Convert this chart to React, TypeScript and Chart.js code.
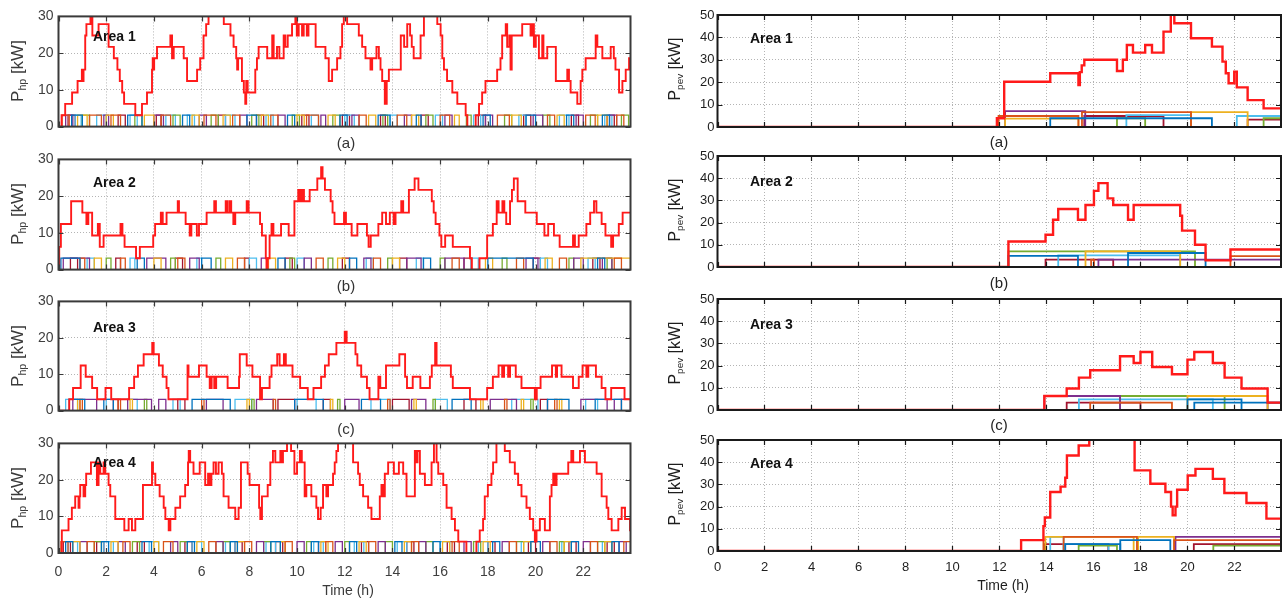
import { useEffect, useRef } from "react";
import { Chart, registerables } from "chart.js";

Chart.register(...registerables);

const FONT = '"Liberation Sans", Arial, Helvetica, sans-serif';
const DAY_END = 23.98;
const HOUR_TICKS = [0, 2, 4, 6, 8, 10, 12, 14, 16, 18, 20, 22];
const HP_TICKS = [0, 10, 20, 30];
const PEV_TICKS = [0, 10, 20, 30, 40, 50];
const HP_UNIT_KW = 3.1;
// default line colour order: blue, orange, yellow, purple, green, light blue, dark red
const SERIES_COLORS = ["#0072BD", "#D95319", "#EDB120", "#7E2F8E", "#77AC30", "#4DBEEE", "#A2142F"];

type Step = [number, number];
type Interval = [number, number];
type Pulse = [number, number, number];

// ---------- heat pumps: aggregate power [h, kW] ----------
const area1HpTotal: Step[] = [
  [0, 0], [0.13, 3.1], [0.28, 6.2], [0.57, 9.3], [0.8, 12.4], [0.98, 15.5], [1.02, 12.4], [1.05, 15.5],
  [1.12, 24.8], [1.17, 27.9], [1.34, 34], [1.42, 24.8], [1.68, 27.9], [2.1, 21.7], [2.32, 18.6],
  [2.47, 15.5], [2.57, 12.4], [2.67, 9.3], [2.75, 6.2], [3.22, 3.1], [3.5, 6.2], [3.71, 9.3],
  [3.92, 15.5], [3.95, 18.6], [3.98, 15.5], [4.01, 18.6], [4.13, 21.7], [4.69, 24.8], [4.76, 18.6],
  [4.83, 21.7], [5.25, 18.6], [5.39, 12.4], [5.81, 15.5], [5.94, 18.6], [6.08, 24.8], [6.19, 27.9],
  [6.29, 34], [6.93, 27.9], [7.21, 24.8], [7.34, 21.7], [7.45, 18.6], [7.49, 15.5], [7.53, 18.6],
  [7.69, 12.4], [7.77, 9.3], [7.83, 6.2], [7.87, 12.4], [7.93, 9.3], [8.25, 15.5], [8.32, 18.6],
  [8.39, 21.7], [8.75, 18.6], [8.96, 24.8], [9.02, 18.6], [9.16, 21.7], [9.26, 18.6], [9.44, 24.8],
  [9.51, 21.7], [9.61, 24.8], [9.79, 27.9], [9.93, 31], [9.99, 24.8], [10.07, 27.9], [10.21, 24.8],
  [10.28, 27.9], [10.41, 24.8], [10.48, 27.9], [10.78, 21.7], [11.19, 18.6], [11.33, 12.4],
  [11.47, 15.5], [11.68, 18.6], [11.82, 21.7], [11.89, 27.9], [11.96, 34], [12.1, 27.9],
  [12.59, 24.8], [12.73, 21.7], [12.87, 18.6], [13.08, 15.5], [13.15, 18.6], [13.33, 21.7],
  [13.43, 18.6], [13.5, 15.5], [13.57, 12.4], [13.68, 6.2], [13.76, 12.4], [13.85, 15.5],
  [14.35, 24.8], [14.49, 21.7], [14.62, 27.9], [14.74, 24.8], [14.81, 21.7], [14.89, 18.6],
  [15.18, 24.8], [15.32, 34], [15.88, 27.9], [16.02, 24.8], [16.09, 18.6], [16.16, 15.5],
  [16.29, 12.4], [16.51, 9.3], [16.72, 6.2], [17.07, 3.1], [17.14, 0], [17.49, 3.1], [17.63, 6.2],
  [17.76, 9.3], [17.9, 12.4], [18.39, 15.5], [18.53, 18.6], [18.6, 24.8], [18.75, 27.9], [18.81, 21.7],
  [18.9, 24.8], [18.95, 15.5], [19.0, 24.8], [19.44, 27.9], [19.79, 24.8], [19.86, 27.9], [19.93, 21.7],
  [20.01, 24.8], [20.14, 18.6], [20.28, 24.8], [20.33, 18.6], [20.49, 21.7], [20.85, 12.4],
  [21.33, 15.5], [21.4, 12.4], [21.47, 9.3], [21.75, 6.2], [21.89, 12.4], [21.96, 15.5], [22.1, 18.6],
  [22.52, 24.8], [22.59, 21.7], [22.8, 18.6], [23.15, 21.7], [23.28, 18.6], [23.35, 15.5],
  [23.5, 9.3], [23.64, 12.4], [23.78, 15.5], [23.92, 18.6],
];

const area2HpTotal: Step[] = [
  [0, 0], [0.03, 6.2], [0.1, 12.4], [0.53, 18.6], [1.0, 15.5], [1.17, 12.4], [1.25, 15.5], [1.41, 9.3],
  [1.65, 12.4], [1.73, 6.2], [1.89, 9.3], [2.6, 12.4], [2.68, 9.3], [2.77, 6.2], [3.25, 3.1], [3.41, 6.2],
  [3.97, 9.3], [4.05, 12.4], [4.29, 15.5], [4.37, 12.4], [4.53, 15.5], [5.0, 18.6], [5.05, 15.5],
  [5.33, 12.4], [5.5, 9.3], [5.57, 12.4], [5.8, 9.3], [5.89, 12.4], [6.21, 15.5], [6.53, 18.6],
  [6.6, 15.5], [7.01, 18.6], [7.08, 15.5], [7.17, 18.6], [7.24, 15.5], [7.33, 12.4], [7.41, 15.5],
  [7.89, 18.6], [7.97, 15.5], [8.45, 12.4], [8.53, 9.3], [8.69, 3.1], [8.72, 0], [8.77, 3.1],
  [8.85, 9.3], [8.93, 12.4], [9.01, 9.3], [9.33, 12.4], [9.65, 9.3], [9.89, 18.6], [10.05, 21.7],
  [10.13, 18.6], [10.21, 21.7], [10.29, 18.6], [10.53, 21.7], [10.85, 24.8], [11.01, 27.9],
  [11.07, 24.8], [11.17, 21.7], [11.41, 18.6], [11.49, 15.5], [11.57, 12.4], [11.97, 15.5],
  [12.05, 12.4], [12.29, 9.3], [12.53, 12.4], [12.93, 9.3], [13.0, 6.2], [13.09, 9.3], [13.41, 12.4],
  [13.57, 15.5], [13.73, 12.4], [13.89, 15.5], [14.05, 12.4], [14.13, 15.5], [14.37, 18.6],
  [14.45, 15.5], [14.69, 21.7], [14.93, 24.8], [15.09, 21.7], [15.65, 18.6], [15.73, 15.5],
  [15.81, 12.4], [15.97, 9.3], [16.05, 6.2], [16.21, 9.3], [16.53, 6.2], [17.25, 3.1], [17.33, 0],
  [17.65, 3.1], [17.97, 9.3], [18.21, 12.4], [18.37, 18.6], [18.45, 15.5], [18.61, 18.6], [18.69, 15.5],
  [18.77, 12.4], [18.93, 18.6], [19.01, 21.7], [19.09, 24.8], [19.25, 18.6], [19.57, 15.5],
  [20.05, 12.4], [20.37, 9.3], [20.53, 12.4], [20.77, 9.3], [21.01, 6.2], [21.57, 9.3], [21.65, 6.2],
  [21.81, 9.3], [22.13, 12.4], [22.29, 15.5], [22.45, 18.6], [22.55, 15.5], [22.77, 12.4], [22.93, 9.3],
  [23.17, 6.2], [23.25, 9.3], [23.49, 12.4], [23.65, 15.5],
];

const area3HpTotal: Step[] = [
  [0, 0], [0.45, 3.1], [0.61, 6.2], [0.93, 12.4], [1.14, 9.3], [1.41, 6.2], [1.62, 3.1], [1.97, 6.2],
  [2.21, 3.1], [2.96, 6.2], [3.17, 9.3], [3.33, 12.4], [3.57, 15.5], [3.93, 18.6], [3.99, 15.5],
  [4.21, 12.4], [4.37, 9.3], [4.53, 6.2], [4.61, 3.1], [5.41, 12.4], [5.45, 9.3], [5.89, 12.4],
  [6.21, 9.3], [6.34, 6.2], [6.42, 9.3], [6.53, 6.2], [6.61, 9.3], [7.09, 6.2], [7.57, 9.3], [7.6, 15.5],
  [7.89, 12.4], [8.13, 9.3], [8.45, 3.1], [8.53, 6.2], [8.85, 9.3], [8.93, 12.4], [9.17, 15.5],
  [9.27, 12.4], [9.45, 15.5], [9.53, 12.4], [9.81, 9.3], [10.13, 6.2], [10.45, 3.1], [10.69, 6.2],
  [11.01, 9.3], [11.17, 12.4], [11.33, 15.5], [11.65, 18.6], [12.0, 21.7], [12.08, 18.6], [12.45, 15.5],
  [12.53, 12.4], [12.69, 9.3], [12.93, 6.2], [13.04, 3.1], [13.41, 9.3], [13.49, 6.2], [13.73, 12.4],
  [14.29, 15.5], [14.53, 9.3], [14.61, 6.2], [14.85, 9.3], [15.17, 6.2], [15.57, 9.3], [15.65, 12.4],
  [15.79, 18.6], [15.85, 12.4], [16.45, 9.3], [16.53, 6.2], [17.25, 3.1], [17.97, 6.2], [18.21, 9.3],
  [18.45, 12.4], [18.6, 9.3], [18.68, 12.4], [18.85, 9.3], [18.93, 12.4], [19.17, 9.3], [19.41, 6.2],
  [19.97, 3.1], [20.05, 6.2], [20.21, 9.3], [20.69, 12.4], [20.85, 9.3], [20.9, 12.4], [21.09, 9.3],
  [21.57, 6.2], [21.81, 9.3], [21.97, 12.4], [22.13, 9.3], [22.21, 12.4], [22.53, 9.3], [22.77, 6.2],
  [22.93, 3.1], [23.17, 6.2], [23.73, 3.1],
];

const area4HpTotal: Step[] = [
  [0, 0], [0.14, 6.2], [0.42, 9.3], [0.56, 12.4], [0.7, 15.5], [0.84, 12.4], [0.88, 15.5], [0.91, 18.6],
  [1.05, 15.5], [1.12, 18.6], [1.16, 21.7], [1.36, 24.8], [1.61, 18.6], [1.68, 24.8], [1.75, 21.7],
  [1.89, 24.8], [1.96, 21.7], [2.1, 18.6], [2.17, 15.5], [2.38, 9.3], [2.76, 6.2], [2.94, 9.3],
  [3.08, 6.2], [3.22, 9.3], [3.54, 18.6], [3.92, 24.8], [3.96, 21.7], [4.06, 18.6], [4.24, 15.5],
  [4.41, 12.4], [4.48, 9.3], [4.62, 6.2], [4.69, 9.3], [4.9, 12.4], [5.1, 15.5], [5.31, 18.6],
  [5.43, 24.8], [5.46, 27.9], [5.52, 24.8], [5.66, 21.7], [5.92, 24.8], [6.15, 18.6], [6.27, 21.7],
  [6.33, 18.6], [6.41, 21.7], [6.5, 24.8], [6.6, 21.7], [6.71, 24.8], [6.85, 21.7], [6.92, 15.5],
  [7.13, 12.4], [7.41, 9.3], [7.55, 12.4], [7.65, 24.8], [7.93, 21.7], [8.01, 18.6], [8.41, 12.4],
  [8.46, 9.3], [8.53, 15.5], [8.77, 18.6], [8.88, 24.8], [8.99, 27.9], [9.09, 24.8], [9.3, 27.9],
  [9.34, 24.8], [9.41, 27.9], [9.58, 31], [9.75, 27.9], [9.89, 21.7], [10.0, 24.8], [10.12, 27.9],
  [10.2, 24.8], [10.32, 15.5], [10.39, 18.6], [10.6, 15.5], [10.81, 12.4], [10.88, 9.3], [10.99, 12.4],
  [11.09, 18.6], [11.23, 15.5], [11.3, 18.6], [11.51, 21.7], [11.58, 24.8], [11.65, 27.9], [11.72, 34],
  [12.35, 24.8], [12.56, 21.7], [12.63, 18.6], [12.77, 15.5], [12.98, 12.4], [13.12, 9.3], [13.47, 15.5],
  [13.54, 18.6], [13.61, 15.5], [13.68, 21.7], [13.82, 24.8], [14.06, 21.7], [14.27, 24.8], [14.45, 21.7],
  [14.59, 15.5], [14.94, 27.9], [15.0, 24.8], [15.05, 27.9], [15.15, 21.7], [15.36, 18.6], [15.64, 24.8],
  [15.74, 34], [15.85, 24.8], [15.92, 21.7], [16.13, 18.6], [16.27, 12.4], [16.48, 9.3], [16.62, 6.2],
  [16.76, 3.1], [17.1, 0], [17.52, 3.1], [17.66, 6.2], [17.8, 9.3], [17.87, 15.5], [18.0, 18.6],
  [18.15, 21.7], [18.22, 24.8], [18.36, 34], [18.71, 27.9], [18.92, 24.8], [19.13, 21.7], [19.27, 18.6],
  [19.41, 15.5], [19.62, 12.4], [19.76, 9.3], [19.9, 6.2], [19.97, 3.1], [20.04, 6.2], [20.18, 9.3],
  [20.39, 6.2], [20.6, 15.5], [20.67, 18.6], [20.74, 21.7], [20.81, 18.6], [20.88, 21.7], [21.37, 24.8],
  [21.5, 27.9], [21.58, 24.8], [21.86, 27.9], [22.07, 24.8], [22.56, 21.7], [22.77, 15.5], [22.98, 12.4],
  [23.05, 9.3], [23.19, 6.2], [23.47, 9.3], [23.61, 12.4], [23.75, 9.3], [23.96, 6.2],
];

// ---------- heat pumps: individual units, on-periods [start h, end h] ----------
const area1HpUnits: Interval[][] = [
  [[0.55, 1.0], [2.9, 3.5], [5.2, 5.5], [7.9, 8.3], [9.6, 9.9], [11.8, 12.1], [13.4, 13.9], [15.0, 15.2], [17.8, 18.1], [19.6, 20.0], [21.3, 21.6], [22.8, 23.1]],
  [[0.15, 0.45], [1.3, 1.8], [2.2, 2.6], [4.3, 4.7], [6.1, 6.6], [7.3, 7.6], [8.9, 9.2], [10.4, 10.9], [12.6, 12.9], [14.2, 14.6], [16.0, 16.4], [18.4, 18.9], [20.5, 20.8], [22.1, 22.5], [23.4, 23.7]],
  [[0.8, 1.2], [2.0, 2.3], [3.6, 4.0], [5.6, 5.9], [6.9, 7.2], [8.5, 8.8], [10.0, 10.3], [11.3, 11.6], [13.0, 13.3], [14.8, 15.1], [16.6, 16.8], [19.0, 19.4], [20.9, 21.2], [22.6, 23.0]],
  [[0.3, 0.6], [1.9, 2.1], [4.0, 4.4], [5.9, 6.2], [7.6, 7.9], [9.2, 9.5], [11.0, 11.2], [12.3, 12.6], [14.5, 14.8], [16.2, 16.5], [17.9, 18.2], [19.9, 20.3], [21.7, 22.0], [23.1, 23.4]],
  [[1.0, 1.3], [3.2, 3.5], [4.8, 5.1], [6.4, 6.7], [8.1, 8.4], [9.8, 10.1], [11.5, 11.8], [13.6, 13.8], [15.4, 15.7], [17.1, 17.3], [18.7, 19.0], [20.3, 20.6], [22.3, 22.6], [23.6, 23.9]],
  [[0.7, 0.95], [1.6, 2.0], [3.0, 3.3], [4.5, 4.9], [5.4, 5.7], [7.0, 7.4], [8.7, 9.0], [10.6, 10.9], [12.0, 12.4], [13.9, 14.2], [15.8, 16.1], [17.4, 17.7], [19.3, 19.6], [21.0, 21.4], [22.9, 23.2]],
  [[0.4, 0.7], [2.5, 2.8], [4.1, 4.3], [6.7, 7.0], [8.3, 8.6], [10.2, 10.5], [11.9, 12.2], [13.5, 13.7], [15.2, 15.5], [17.6, 17.9], [19.5, 19.8], [21.5, 21.8], [23.0, 23.3]],
];

const area2HpUnits: Interval[][] = [
  [[0.1, 0.9], [3.3, 3.6], [6.0, 6.4], [9.2, 9.5], [12.2, 12.5], [15.3, 15.6], [18.0, 19.9], [22.6, 22.9]],
  [[0.9, 1.1], [2.6, 2.8], [5.0, 5.3], [7.5, 7.8], [10.8, 11.1], [13.2, 13.5], [16.5, 16.8], [19.2, 19.5], [21.0, 21.3], [23.3, 23.6]],
  [[1.5, 1.8], [4.0, 4.3], [7.0, 7.3], [8.8, 9.1], [11.7, 12.0], [14.0, 14.3], [17.9, 18.2], [20.4, 20.7], [21.9, 23.98]],
  [[0.2, 1.3], [3.7, 4.5], [5.5, 5.9], [8.5, 8.8], [10.3, 10.6], [12.8, 13.1], [14.6, 15.2], [16.2, 17.0], [19.6, 20.1], [21.6, 22.0], [22.8, 23.2]],
  [[2.0, 2.2], [4.7, 4.9], [6.6, 6.8], [9.7, 9.9], [11.3, 11.5], [13.8, 14.0], [16.0, 16.2], [18.6, 18.8], [21.4, 21.6], [23.0, 23.2]],
  [[1.2, 1.5], [3.0, 3.2], [5.8, 6.0], [8.0, 8.3], [10.0, 10.3], [12.9, 13.2], [15.0, 15.3], [17.3, 17.6], [20.2, 20.5], [22.2, 22.5]],
  [[0.5, 0.8], [2.4, 2.6], [4.9, 5.2], [7.8, 8.0], [9.5, 9.8], [11.9, 12.2], [14.3, 14.6], [17.0, 17.3], [19.9, 20.2], [22.4, 22.7]],
];

const area3HpUnits: Interval[][] = [
  [[0.45, 1.1], [1.9, 2.3], [5.6, 7.2], [9.9, 11.1], [12.7, 13.5], [16.5, 17.3], [20.5, 21.4], [22.5, 23.6]],
  [[0.9, 1.0], [2.5, 2.6], [6.0, 6.1], [9.0, 9.1], [13.8, 13.9], [18.7, 18.8], [20.8, 20.9]],
  [[0.8, 0.9], [3.0, 3.1], [7.9, 8.0], [11.4, 11.5], [14.9, 15.0], [17.7, 17.8], [19.4, 19.5], [21.0, 21.1]],
  [[0.6, 1.6], [2.9, 3.9], [4.2, 4.5], [6.2, 6.9], [8.3, 9.0], [12.0, 12.6], [14.8, 15.4], [18.1, 19.2], [21.9, 23.0], [23.3, 23.98]],
  [[3.6, 3.7], [8.1, 8.2], [11.7, 11.8], [15.7, 15.8], [19.8, 19.9]],
  [[0.3, 0.8], [2.0, 3.3], [4.8, 5.1], [7.4, 8.1], [10.0, 10.8], [13.1, 13.9], [15.8, 16.3], [19.0, 20.1], [22.1, 22.6]],
  [[2.3, 2.5], [5.0, 5.3], [9.2, 9.9], [11.1, 11.4], [14.0, 14.7], [17.0, 17.5], [20.2, 20.5], [23.6, 23.98]],
];

const area4HpUnits: Interval[][] = [
  [[0.3, 0.6], [1.8, 2.1], [3.5, 3.9], [5.4, 5.7], [7.2, 7.5], [8.9, 9.3], [10.6, 10.9], [12.2, 12.5], [14.1, 14.4], [15.7, 16.0], [18.2, 18.5], [19.8, 20.2], [21.5, 21.8], [23.2, 23.5]],
  [[0.1, 0.4], [1.2, 1.5], [2.7, 3.0], [4.4, 4.8], [6.3, 6.6], [7.8, 8.1], [9.5, 9.8], [11.2, 11.5], [13.0, 13.3], [14.8, 15.1], [16.5, 16.8], [18.9, 19.2], [20.6, 20.9], [22.3, 22.6], [23.7, 23.98]],
  [[0.6, 0.9], [2.2, 2.5], [4.0, 4.2], [5.8, 6.1], [7.5, 7.8], [9.3, 9.5], [11.0, 11.3], [12.6, 12.9], [14.5, 14.8], [16.1, 16.4], [17.8, 18.1], [19.5, 19.8], [21.2, 21.5], [22.9, 23.2]],
  [[0.9, 1.2], [2.5, 2.8], [4.7, 5.0], [6.6, 6.9], [8.3, 8.6], [10.0, 10.3], [11.6, 11.9], [13.4, 13.7], [15.1, 15.4], [17.0, 17.3], [18.6, 18.9], [20.3, 20.6], [22.0, 22.3], [23.5, 23.8]],
  [[1.5, 1.8], [3.1, 3.4], [5.1, 5.4], [6.9, 7.2], [8.6, 8.9], [10.4, 10.6], [12.0, 12.2], [13.7, 14.0], [15.4, 15.7], [17.4, 17.7], [19.2, 19.5], [21.0, 21.2], [22.6, 22.9]],
  [[0.4, 0.8], [1.9, 2.3], [3.8, 4.2], [5.6, 6.0], [7.0, 7.4], [8.7, 9.1], [10.7, 11.1], [12.4, 12.8], [14.2, 14.6], [16.0, 16.4], [17.6, 18.0], [19.4, 19.8], [21.1, 21.5], [22.8, 23.2]],
  [[0.2, 0.5], [1.6, 1.9], [3.3, 3.6], [5.3, 5.6], [7.4, 7.7], [9.1, 9.4], [10.9, 11.2], [12.7, 13.0], [14.6, 14.9], [16.3, 16.6], [18.0, 18.3], [19.7, 20.0], [21.4, 21.7], [23.0, 23.3]],
];

// ---------- plug-in EVs: aggregate power [h, kW] ----------
const area1PevTotal: Step[] = [
  [0, 0], [11.89, 3.9], [12.2, 20.2], [14.16, 24.0], [15.36, 18.7], [15.42, 24.5], [15.5, 27.5],
  [15.61, 30.0], [17.0, 25.0], [17.25, 30.0], [17.42, 36.6], [17.68, 33.2], [18.2, 36.6], [18.49, 33.2],
  [18.98, 42.6], [19.29, 52], [19.44, 46.3], [20.15, 39.6], [21.04, 35.9], [21.49, 29.2], [21.63, 24.0],
  [21.75, 19.5], [21.99, 24.7], [22.1, 17.7], [22.56, 12.0], [23.24, 8.3],
];
const area2PevTotal: Step[] = [
  [0, 0], [12.38, 11.5], [13.96, 14.5], [14.28, 21.3], [14.5, 26.1], [15.34, 21.3], [15.66, 27.9],
  [16.02, 34.3], [16.21, 37.8], [16.6, 30.9], [16.84, 27.9], [17.47, 21.3], [17.71, 27.9], [19.69, 23.1],
  [19.77, 16.4], [20.32, 10.0], [20.77, 3.0], [21.83, 7.9],
];
const area3PevTotal: Step[] = [
  [0, 0], [13.91, 6.3], [14.86, 9.7], [15.38, 14.6], [15.86, 17.9], [17.13, 24.2], [17.71, 21.2],
  [18.0, 26.1], [18.5, 19.4], [19.34, 16.1], [20.0, 22.7], [20.29, 26.1], [21.08, 21.2], [21.58, 14.6],
  [22.3, 9.7], [23.41, 3.3],
];
const area4PevTotal: Step[] = [
  [0, 0], [12.92, 4.9], [13.87, 11.2], [13.93, 15.1], [14.16, 26.6], [14.6, 29], [14.8, 33], [14.87, 43],
  [15.37, 47.5], [15.82, 55], [17.75, 36.3], [18.42, 30.3], [19.06, 26.6], [19.3, 20], [19.37, 16.1],
  [19.49, 20], [19.56, 27.6], [20.01, 34.0], [20.34, 37.0], [21.08, 32.5], [21.57, 26.1], [22.51, 21.6],
  [23.36, 14.6],
];

// ---------- plug-in EVs: charging sessions [start h, end h, kW], grouped by line colour ----------
const area1PevUnits: Pulse[][] = [
  [[14.16, 21.04, 3.9]],
  [[11.96, 15.36, 4.9], [15.51, 20.15, 6.6]],
  [[12.24, 15.36, 3.7], [20.15, 22.56, 6.6]],
  [[12.24, 15.65, 7.1]],
  [[17.0, 18.2, 3.9], [23.24, 23.98, 3.9]],
  [[17.4, 20.15, 5.3], [22.1, 23.98, 4.9]],
  [[15.61, 18.98, 4.9], [22.56, 23.98, 3.3]],
];
const area2PevUnits: Pulse[][] = [
  [[12.38, 15.34, 5.0], [17.47, 20.77, 6.3]],
  [[15.9, 16.02, 3.3], [21.83, 23.98, 4.9]],
  [[15.66, 19.69, 7.0]],
  [[16.21, 23.98, 3.3]],
  [[12.38, 20.32, 7.0]],
  [[14.5, 19.69, 5.2]],
  [[13.96, 16.84, 3.3]],
];
const area3PevUnits: Pulse[][] = [
  [[20.0, 22.3, 4.8], [20.29, 23.98, 3.3]],
  [[15.86, 19.34, 3.3]],
  [[20.0, 23.41, 6.3]],
  [[13.91, 17.13, 6.3], [23.41, 23.98, 3.3]],
  [[17.13, 21.58, 6.3]],
  [[15.38, 21.08, 4.8]],
  [[14.86, 18.0, 3.3]],
];
const area4PevUnits: Pulse[][] = [
  [[17.14, 19.27, 4.9], [14.8, 17.14, 3.1]],
  [[12.92, 13.87, 4.9], [14.73, 17.85, 6.4], [19.43, 23.98, 4.9]],
  [[13.95, 17.71, 6.4], [17.9, 19.43, 6.4]],
  [[19.49, 23.98, 6.4]],
  [[15.37, 17.0, 2.4], [21.1, 23.98, 2.4]],
  [[14.16, 14.73, 6.4], [14.73, 16.64, 3.1]],
  [[13.9, 16.63, 3.1], [20.27, 23.98, 3.1]],
];

// ---------- chart building ----------
type Pt = { x: number; y: number };

function stepPoints(steps: Step[]): Pt[] {
  const pts = steps.map(([x, y]) => ({ x, y }));
  const last = steps[steps.length - 1];
  if (last[0] < DAY_END) pts.push({ x: DAY_END, y: last[1] });
  return pts;
}

function onOffPoints(intervals: Interval[]): Pt[] {
  const pts: Pt[] = [{ x: 0, y: 0 }];
  intervals.forEach(([a, b]) => {
    pts.push({ x: a, y: HP_UNIT_KW }, { x: b, y: 0 });
  });
  pts.push({ x: DAY_END, y: 0 });
  return pts;
}

function pulsePoints([a, b, kw]: Pulse): Pt[] {
  return [{ x: 0, y: 0 }, { x: a, y: kw }, { x: b, y: 0 }, { x: DAY_END, y: 0 }];
}

// box frame with inward tick marks on all four sides
const framePlugin = {
  id: "frame",
  afterDatasetsDraw(chart: any, _args: any, opts: any) {
    const { ctx, chartArea, scales } = chart;
    const { left, top, right, bottom } = chartArea;
    ctx.save();
    ctx.strokeStyle = opts.color;
    ctx.lineWidth = 1.2;
    ctx.beginPath();
    HOUR_TICKS.forEach((v) => {
      const px = Math.round(scales.x.getPixelForValue(v)) + 0.5;
      ctx.moveTo(px, bottom);
      ctx.lineTo(px, bottom - 5);
      ctx.moveTo(px, top);
      ctx.lineTo(px, top + 5);
    });
    (opts.yTicks as number[]).forEach((v) => {
      const py = Math.round(scales.y.getPixelForValue(v)) + 0.5;
      ctx.moveTo(left, py);
      ctx.lineTo(left + 5, py);
      ctx.moveTo(right, py);
      ctx.lineTo(right - 5, py);
    });
    ctx.stroke();
    ctx.lineWidth = 2;
    ctx.strokeRect(left, top, right - left, bottom - top);
    ctx.restore();
  },
};

interface PanelSpec {
  id: string;
  total: Step[];
  hpUnits?: Interval[][];
  pevUnits?: Pulse[][];
  yMax: number;
  yTicks: number[];
  canvasLeft: number;
  areaLeft: number;
  areaRight: number;
  areaTop: number;
  areaBottom: number;
  canvasWidth: number;
  showX: boolean;
  tickColor: string;
  frameColor: string;
  totalWidth: number;
  unitWidth: number;
  tickSize: number;
  yPad: number;
  xPad: number;
}

const PAD_TOP = 12;
const PAD_BOTTOM = 12;
const PAD_BOTTOM_LAST = 42;

function Panel({ spec }: { spec: PanelSpec }) {
  const ref = useRef<HTMLCanvasElement>(null);
  const padB = spec.showX ? PAD_BOTTOM_LAST : PAD_BOTTOM;
  const padL = spec.areaLeft - spec.canvasLeft;
  const padR = spec.canvasLeft + spec.canvasWidth - spec.areaRight;
  const height = Math.round(PAD_TOP + (spec.areaBottom - spec.areaTop) + padB);
  const canvasTop = spec.areaTop - PAD_TOP;

  useEffect(() => {
    const datasets: any[] = [
      {
        data: stepPoints(spec.total),
        borderColor: "#ff1a1a",
        borderWidth: spec.totalWidth,
        stepped: true,
        pointRadius: 0,
      },
    ];
    if (spec.hpUnits) {
      spec.hpUnits.forEach((intervals, i) => {
        datasets.push({
          data: onOffPoints(intervals),
          borderColor: SERIES_COLORS[i % SERIES_COLORS.length],
          borderWidth: spec.unitWidth,
          stepped: true,
          pointRadius: 0,
        });
      });
    }
    if (spec.pevUnits) {
      spec.pevUnits.forEach((pulses, i) => {
        pulses.forEach((p) => {
          datasets.push({
            data: pulsePoints(p),
            borderColor: SERIES_COLORS[i % SERIES_COLORS.length],
            borderWidth: spec.unitWidth,
            stepped: true,
            pointRadius: 0,
          });
        });
      });
    }

    const gridOpts = { color: "#b4b4b4", lineWidth: 1, drawTicks: false };
    const chart = new Chart(ref.current as HTMLCanvasElement, {
      type: "line",
      data: { datasets },
      plugins: [framePlugin as any],
      options: {
        animation: false,
        responsive: false,
        maintainAspectRatio: false,
        events: [],
        layout: { padding: { top: PAD_TOP, right: padR, left: 0, bottom: 0 } },
        plugins: {
          legend: { display: false },
          tooltip: { enabled: false },
          frame: { color: spec.frameColor, yTicks: spec.yTicks },
        } as any,
        scales: {
          x: {
            type: "linear",
            min: 0,
            max: DAY_END,
            afterBuildTicks: (s: any) => {
              s.ticks = HOUR_TICKS.map((value) => ({ value }));
            },
            afterFit: (s: any) => {
              s.height = padB;
            },
            grid: gridOpts,
            border: { display: false, dash: [1, 2] },
            ticks: {
              display: spec.showX,
              autoSkip: false,
              maxRotation: 0,
              padding: spec.xPad,
              color: spec.tickColor,
              font: { family: FONT, size: spec.tickSize },
            },
          },
          y: {
            type: "linear",
            min: 0,
            max: spec.yMax,
            afterBuildTicks: (s: any) => {
              s.ticks = spec.yTicks.map((value) => ({ value }));
            },
            afterFit: (s: any) => {
              s.width = padL;
            },
            grid: gridOpts,
            border: { display: false, dash: [1, 2] },
            ticks: {
              padding: spec.yPad,
              color: spec.tickColor,
              font: { family: FONT, size: spec.tickSize },
            },
          },
        },
      } as any,
    });
    return () => chart.destroy();
  }, [spec, padB, padL, padR]);

  return (
    <canvas
      ref={ref}
      width={spec.canvasWidth}
      height={height}
      style={{ position: "absolute", left: spec.canvasLeft, top: canvasTop, width: spec.canvasWidth, height }}
    />
  );
}

// ---------- layout ----------
const LEFT_ROWS = [[15, 127.5], [158, 270.5], [300, 411.5], [442, 553]];
const RIGHT_ROWS = [[15, 127], [156, 267], [299, 410], [440, 551]];
const HP_TOTALS = [area1HpTotal, area2HpTotal, area3HpTotal, area4HpTotal];
const HP_UNITS = [area1HpUnits, area2HpUnits, area3HpUnits, area4HpUnits];
const PEV_TOTALS = [area1PevTotal, area2PevTotal, area3PevTotal, area4PevTotal];
const PEV_UNITS = [area1PevUnits, area2PevUnits, area3PevUnits, area4PevUnits];
const AREA_NAMES = ["Area 1", "Area 2", "Area 3", "Area 4"];
const CAPTIONS = ["(a)", "(b)", "(c)"];

const hpPanels: PanelSpec[] = LEFT_ROWS.map(([t, b], i) => ({
  id: `hp${i}`,
  total: HP_TOTALS[i],
  hpUnits: HP_UNITS[i],
  yMax: 30,
  yTicks: HP_TICKS,
  canvasLeft: 0,
  canvasWidth: 640,
  areaLeft: 58.5,
  areaRight: 630.5,
  areaTop: t,
  areaBottom: b,
  showX: i === 3,
  tickColor: "#3f3f3f",
  frameColor: "#3a3a3a",
  totalWidth: 1.9,
  unitWidth: 1.3,
  tickSize: 14,
  yPad: 5,
  xPad: 11,
}));

const pevPanels: PanelSpec[] = RIGHT_ROWS.map(([t, b], i) => ({
  id: `pev${i}`,
  total: PEV_TOTALS[i],
  pevUnits: PEV_UNITS[i],
  yMax: 50,
  yTicks: PEV_TICKS,
  canvasLeft: 660,
  canvasWidth: 623,
  areaLeft: 717.5,
  areaRight: 1281,
  areaTop: t,
  areaBottom: b,
  showX: i === 3,
  tickColor: "#1e1e1e",
  frameColor: "#1a1a1a",
  totalWidth: 2.4,
  unitWidth: 1.8,
  tickSize: 13,
  yPad: 3,
  xPad: 9,
}));

const textBase: any = { position: "absolute", fontFamily: FONT, whiteSpace: "nowrap", lineHeight: "16px" };

function AxisTitle({ x, y, sub, color, size }: { x: number; y: number; sub: string; color: string; size: number }) {
  return (
    <div
      style={{
        ...textBase,
        left: x,
        top: y,
        color,
        fontSize: size,
        lineHeight: `${size + 4}px`,
        transform: "translate(-50%, -50%) rotate(-90deg)",
      }}
    >
      P<span style={{ fontSize: "0.62em", position: "relative", top: "0.32em" }}>{sub}</span> [kW]
    </div>
  );
}

function Centered({ x, y, text, size, color, bold }: { x: number; y: number; text: string; size: number; color: string; bold?: boolean }) {
  return (
    <div
      style={{
        ...textBase,
        left: x,
        top: y,
        fontSize: size,
        color,
        fontWeight: bold ? 700 : 400,
        transform: "translate(-50%, -50%)",
      }}
    >
      {text}
    </div>
  );
}

function LeftText({ x, y, text }: { x: number; y: number; text: string }) {
  return (
    <div style={{ ...textBase, left: x, top: y - 8, fontSize: 14, fontWeight: 700, color: "#111" }}>{text}</div>
  );
}

const HP_AREA_LABEL_Y = [36, 182, 327, 462];
const PEV_AREA_LABEL_Y = [38, 181, 324, 463];
const HP_CAPTION_Y = [143, 286, 429];
const PEV_CAPTION_Y = [142, 283, 425];

export default function App() {
  return (
    <div style={{ position: "fixed", left: 0, top: 0, width: 1283, height: 599, background: "#ffffff", overflow: "hidden" }}>
      {hpPanels.map((p) => (
        <Panel key={p.id} spec={p} />
      ))}
      {pevPanels.map((p) => (
        <Panel key={p.id} spec={p} />
      ))}

      {LEFT_ROWS.map(([t, b], i) => (
        <AxisTitle key={`hpt${i}`} x={18} y={(t + b) / 2} sub="hp" color="#3a3a3a" size={17} />
      ))}
      {RIGHT_ROWS.map(([t, b], i) => (
        <AxisTitle key={`pevt${i}`} x={676} y={(t + b) / 2 - 2} sub="pev" color="#1e1e1e" size={16} />
      ))}

      {AREA_NAMES.map((name, i) => (
        <LeftText key={`hpa${i}`} x={93} y={HP_AREA_LABEL_Y[i]} text={name} />
      ))}
      {AREA_NAMES.map((name, i) => (
        <LeftText key={`peva${i}`} x={750} y={PEV_AREA_LABEL_Y[i]} text={name} />
      ))}

      {CAPTIONS.map((c, i) => (
        <Centered key={`hpc${i}`} x={346} y={HP_CAPTION_Y[i]} text={c} size={15} color="#333" />
      ))}
      {CAPTIONS.map((c, i) => (
        <Centered key={`pevc${i}`} x={999} y={PEV_CAPTION_Y[i]} text={c} size={15} color="#222" />
      ))}

      <Centered x={348} y={590} text="Time (h)" size={14} color="#3a3a3a" />
      <Centered x={1003} y={585} text="Time (h)" size={14} color="#1e1e1e" />
    </div>
  );
}
